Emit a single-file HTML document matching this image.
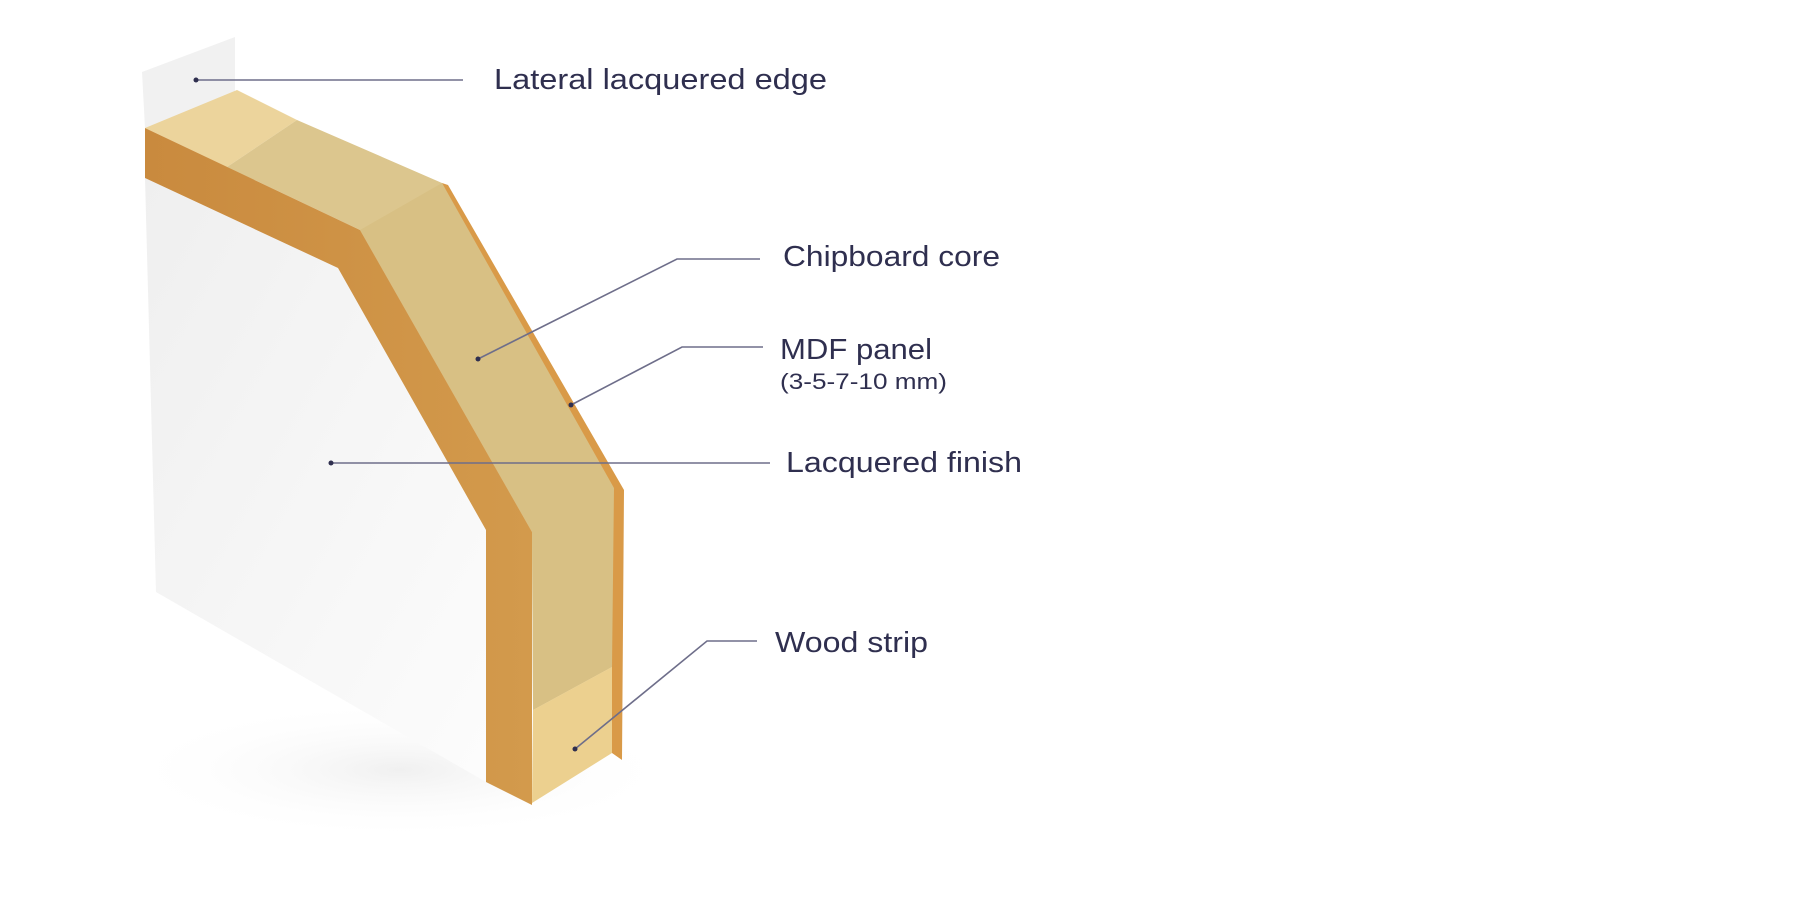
<!DOCTYPE html>
<html><head><meta charset="utf-8"><style>
html,body{margin:0;padding:0;background:#fff;width:1816px;height:918px;overflow:hidden}
svg{display:block}
text{font-family:"Liberation Sans",sans-serif;fill:#2f2f4f}
</style></head><body>
<svg width="1816" height="918" viewBox="0 0 1816 918" xmlns="http://www.w3.org/2000/svg">
<defs>
<linearGradient id="face" x1="0" y1="0" x2="1" y2="1">
<stop offset="0" stop-color="#efefef"/><stop offset="0.6" stop-color="#f7f7f7"/><stop offset="1" stop-color="#fcfcfc"/>
</linearGradient>
<linearGradient id="brown" x1="0" y1="0" x2="1" y2="0">
<stop offset="0" stop-color="#c98a3e"/><stop offset="1" stop-color="#d39a4c"/>
</linearGradient>
<radialGradient id="shadow" cx="0.5" cy="0.5" r="0.5">
<stop offset="0" stop-color="#f0f0f0"/><stop offset="1" stop-color="#ffffff" stop-opacity="0"/>
</radialGradient>
</defs>
<ellipse cx="400" cy="770" rx="280" ry="70" fill="url(#shadow)"/>
<!-- lateral edge panel -->
<polygon points="142,72 235,37 235,92 145,128" fill="#f1f1f1"/>
<!-- white face -->
<polygon points="145,178 338,268 486,530 486,782 156,592" fill="url(#face)"/>
<!-- wood top -->
<polygon points="145,128 237,90 297,120 227,167" fill="#ecd49c"/>
<!-- chip top+side -->
<polygon points="227,167 297,120 442,183 622,488 612,667 533,710 532,532 360,230" fill="#dcc68e"/>
<polygon points="360,230 442,183 622,488 612,667 533,710 532,532" fill="#d8c084"/>
<!-- brown MDF front edge -->
<polygon points="145,128 360,230 532,532 532,805 486,782 486,530 338,268 145,178" fill="url(#brown)"/>
<!-- orange MDF back strip -->
<polygon points="442,183 448,185 624,490 622,760 612,753 612,667 614,488" fill="#d99a48"/>
<!-- wood strip bottom -->
<polygon points="533,710 612,667 612,753 532,803" fill="#ecd08f"/>
<!-- connectors -->
<g stroke="#6e6e8a" stroke-width="1.6" fill="none">
<line x1="196" y1="80" x2="463" y2="80"/>
<polyline points="478,359 677,259 760,259"/>
<polyline points="571,405 682,347 763,347"/>
<line x1="331" y1="463" x2="770" y2="463"/>
<polyline points="575,749 707,641 757,641"/>
</g>
<g fill="#2f2f4f">
<circle cx="196" cy="80" r="2.5"/><circle cx="478" cy="359" r="2.5"/><circle cx="571" cy="405" r="2.5"/><circle cx="331" cy="463" r="2.5"/><circle cx="575" cy="749" r="2.5"/>
</g>
<text x="494" y="89" font-size="29" textLength="333" lengthAdjust="spacingAndGlyphs">Lateral lacquered edge</text>
<text x="783" y="266" font-size="29" textLength="217" lengthAdjust="spacingAndGlyphs">Chipboard core</text>
<text x="780" y="359" font-size="29" textLength="152" lengthAdjust="spacingAndGlyphs">MDF panel</text>
<text x="780" y="389" font-size="22" textLength="167" lengthAdjust="spacingAndGlyphs">(3-5-7-10 mm)</text>
<text x="786" y="472" font-size="29" textLength="236" lengthAdjust="spacingAndGlyphs">Lacquered finish</text>
<text x="775" y="652" font-size="29" textLength="153" lengthAdjust="spacingAndGlyphs">Wood strip</text>
</svg>
</body></html>
